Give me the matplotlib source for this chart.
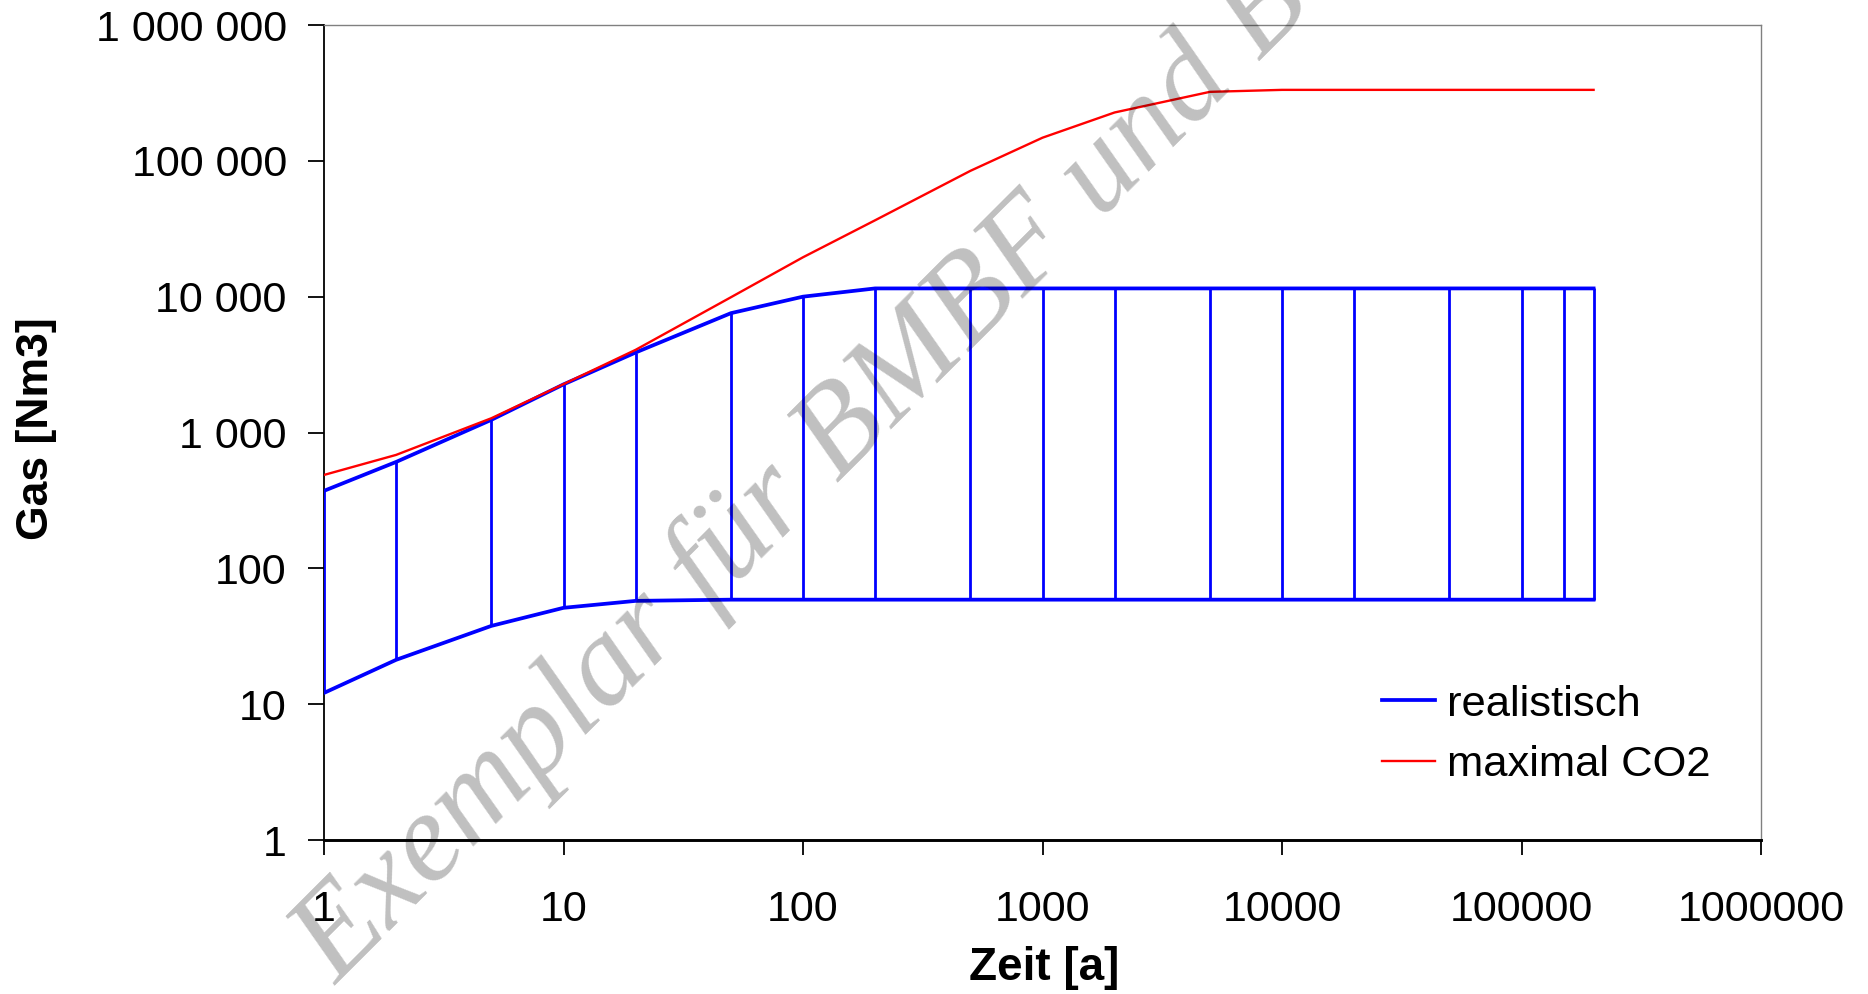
import matplotlib
matplotlib.use("Agg")
import matplotlib.pyplot as plt
from matplotlib.ticker import FixedLocator, FuncFormatter, NullLocator

# ---- data ----
zeit = [1, 2, 5, 10, 20, 50, 100, 200, 500, 1000, 2000, 5000, 10000,
        20000, 50000, 100000, 150000, 200000]
realistisch_oben = [372, 607, 1240, 2260, 3880, 7560, 10000, 11500, 11500,
                    11500, 11500, 11500, 11500, 11500, 11500, 11500, 11500, 11500]
realistisch_unten = [12.1, 21.2, 37.7, 51.2, 57.6, 58.8, 58.8, 58.8, 58.8,
                     58.8, 58.8, 58.8, 58.8, 58.8, 58.8, 58.8, 58.8, 58.8]
zeit_co2 = [1, 2, 5, 10, 20, 50, 100, 200, 500, 1000, 2000, 5000, 10000,
            20000, 50000, 100000, 200000]
maximal_co2 = [487, 684, 1274, 2270, 4060, 9900, 19500, 36500, 84400, 148000,
               227000, 322000, 333000, 333000, 333000, 333000, 333000]

x_ticks = [1, 10, 100, 1000, 10000, 100000, 1000000]
y_ticks = [1, 10, 100, 1000, 10000, 100000, 1000000]
x_label = "Zeit [a]"
y_label = "Gas [Nm3]"
legend_labels = ["realistisch", "maximal CO2"]
watermark = "Exemplar für BMBF und B"

W, H = 1868, 994
plt.rcParams['font.family'] = ['Liberation Sans', 'DejaVu Sans']
fig = plt.figure(figsize=(W / 100, H / 100), dpi=100)
ax = fig.add_axes([324 / W, 1 - 840 / H, (1761 - 324) / W, (840 - 25) / H])

ax.set_xscale('log')
ax.set_yscale('log')
ax.set_xlim(1, 1e6)
ax.set_ylim(1, 1e6)

blue = '#0000ff'
red = '#ff0000'
ax.vlines(zeit, realistisch_unten, realistisch_oben, color=blue, lw=2.0, zorder=3)
l1, = ax.plot(zeit, realistisch_oben, color=blue, lw=2.7, zorder=4,
              solid_joinstyle='miter')
ax.plot(zeit, realistisch_unten, color=blue, lw=2.7, zorder=4,
        solid_joinstyle='miter')
l2, = ax.plot(zeit_co2, maximal_co2, color=red, lw=1.7, zorder=5)

# axes styling
for s in ['top', 'right']:
    ax.spines[s].set_color('#808080')
    ax.spines[s].set_linewidth(1.0)
ax.spines['left'].set_color('black')
ax.spines['left'].set_linewidth(1.3)
ax.spines['bottom'].set_color('black')
ax.spines['bottom'].set_linewidth(2.1)

ax.xaxis.set_major_locator(FixedLocator(x_ticks))
ax.yaxis.set_major_locator(FixedLocator(y_ticks))
ax.xaxis.set_minor_locator(NullLocator())
ax.yaxis.set_minor_locator(NullLocator())
ax.xaxis.set_major_formatter(FuncFormatter(lambda v, p: f"{int(round(v))}"))
ax.yaxis.set_major_formatter(
    FuncFormatter(lambda v, p: f"{int(round(v)):,}".replace(",", " ")))
ax.tick_params(axis='x', direction='out', length=10.8, width=1.3, pad=25,
               labelsize=31, colors='black')
ax.tick_params(axis='y', direction='out', length=11.3, width=1.3, pad=15.5,
               labelsize=31, colors='black')

ax.set_xlabel(x_label, fontsize=33, fontweight='bold')
ax.set_ylabel(y_label, fontsize=32, fontweight='bold')
ax.xaxis.label.set_va('center')
ax.xaxis.set_label_coords(0.501, -0.157)
ax.yaxis.label.set_va('center')
ax.yaxis.set_label_coords(-0.2004, 0.505)

fig.legend([l1, l2], legend_labels, loc='center left',
           bbox_to_anchor=(1382 / W, 1 - 735 / H), frameon=False,
           fontsize=31.3, handlelength=1.22, handletextpad=0.27,
           labelspacing=0.48, borderpad=0, borderaxespad=0)

# watermark
fig.text(336 / W, 1 - 986 / H, watermark, rotation=45, rotation_mode='anchor',
         ha='left', va='baseline', fontsize=92, color='black', alpha=0.25,
         family=['Liberation Serif', 'DejaVu Serif'], style='italic',
         zorder=10)

fig.savefig('out.png', dpi=100)
